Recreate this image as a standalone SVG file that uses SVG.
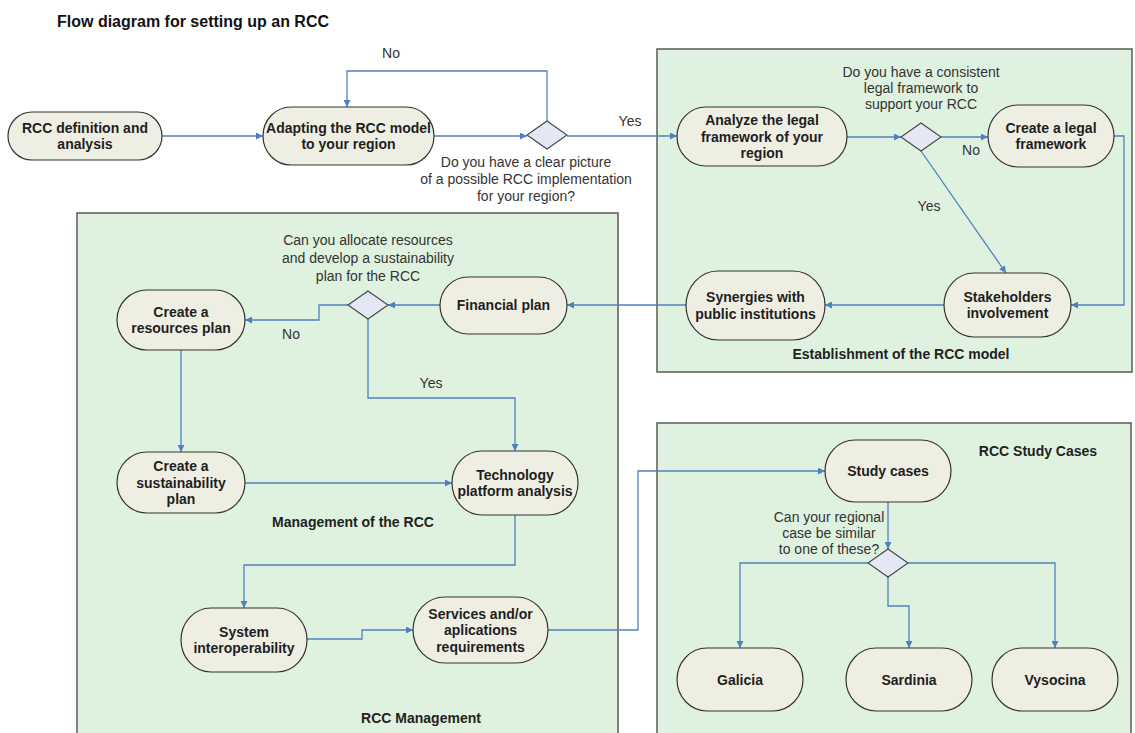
<svg xmlns="http://www.w3.org/2000/svg" width="1135" height="733" viewBox="0 0 1135 733">
<defs>
<style>
.box{fill:#dff2df;stroke:#5a5a5a;stroke-width:1.5}
.node rect{fill:#efeee3;stroke:#333;stroke-width:1.2}
.dia{fill:#e4e8f4;stroke:#444;stroke-width:1.1}
.nt{font-family:"Liberation Sans",Arial,sans-serif;font-size:14px;font-weight:bold;fill:#1e1e1e;text-anchor:middle}
.q{font-family:"Liberation Sans",Arial,sans-serif;font-size:14px;fill:#333;text-anchor:middle}
.lb{font-family:"Liberation Sans",Arial,sans-serif;font-size:14px;font-weight:bold;fill:#222;text-anchor:middle}
.c{fill:none;stroke:#4f81bd;stroke-width:1.3}
</style>
<marker id="ah" viewBox="0 0 10 10" refX="10" refY="5" markerWidth="7" markerHeight="7" markerUnits="userSpaceOnUse" orient="auto">
<path d="M0,0 L10,5 L0,10 z" fill="#4f81bd"/>
</marker>
</defs>
<rect width="1135" height="733" fill="#fff"/>
<text x="57" y="27" font-family="Liberation Sans, Arial, sans-serif" font-size="16" font-weight="bold" fill="#111">Flow diagram for setting up an RCC</text>

<g id="containers">
<rect class="box" x="657" y="49" width="475" height="323"/>
<rect class="box" x="77" y="213" width="541" height="530"/>
<rect class="box" x="657" y="423" width="474" height="320"/>
<text class="lb" x="901" y="359">Establishment of the RCC model</text>
<text class="lb" x="353" y="527">Management of the RCC</text>
<text class="lb" x="421" y="723">RCC Management</text>
<text class="lb" x="1038" y="456">RCC Study Cases</text>
</g>

<g id="connectors">
<path class="c" marker-end="url(#ah)" d="M162,136 H263"/>
<path class="c" marker-end="url(#ah)" d="M434,136 H527"/>
<path class="c" marker-end="url(#ah)" d="M547,121 V71 H347 V107"/>
<path class="c" marker-end="url(#ah)" d="M567,136 H677"/>
<path class="c" marker-end="url(#ah)" d="M847,137 H901"/>
<path class="c" marker-end="url(#ah)" d="M941,137 H988"/>
<path class="c" marker-end="url(#ah)" d="M921,151 L1006,273"/>
<path class="c" marker-end="url(#ah)" d="M1114,136 H1124 V305 H1071"/>
<path class="c" marker-end="url(#ah)" d="M944,305 H825"/>
<path class="c" marker-end="url(#ah)" d="M686,305 H567"/>
<path class="c" marker-end="url(#ah)" d="M440,305 H388"/>
<path class="c" marker-end="url(#ah)" d="M348,305 H319 V320 H245"/>
<path class="c" marker-end="url(#ah)" d="M368,319 V398 H515 V451"/>
<path class="c" marker-end="url(#ah)" d="M181,350 V452"/>
<path class="c" marker-end="url(#ah)" d="M245,483 H452"/>
<path class="c" marker-end="url(#ah)" d="M515,515 V565 H244 V608"/>
<path class="c" marker-end="url(#ah)" d="M307,639 H362 V630 H413"/>
<path class="c" marker-end="url(#ah)" d="M548,630 H638 V471 H825"/>
<path class="c" marker-end="url(#ah)" d="M888,502 V549"/>
<path class="c" marker-end="url(#ah)" d="M868,563 H740 V648"/>
<path class="c" marker-end="url(#ah)" d="M888,577 V606 H909 V648"/>
<path class="c" marker-end="url(#ah)" d="M908,563 H1055 V648"/>
<text class="q" x="391" y="58">No</text>
<text class="q" x="630" y="126">Yes</text>
<text class="q" x="971" y="155">No</text>
<text class="q" x="929" y="211">Yes</text>
<text class="q" x="291" y="339">No</text>
<text class="q" x="431" y="388">Yes</text>
</g>

<g id="n1" class="node"><rect x="8" y="112" width="154" height="48" rx="24" ry="24"/>
<text class="nt" x="85" y="132.5">RCC definition and</text><text class="nt" x="85" y="149">analysis</text></g>
<g id="n2" class="node"><rect x="263" y="107" width="171" height="58" rx="28" ry="29"/>
<text class="nt" x="348.5" y="132.5">Adapting the RCC model</text><text class="nt" x="348.5" y="149">to your region</text></g>
<g id="d1"><polygon class="dia" points="547,121 567,135 547,149 527,135"/>
<text class="q" x="526" y="167">Do you have a clear picture</text><text class="q" x="526" y="184">of a possible RCC implementation</text><text class="q" x="526" y="201">for your region?</text></g>
<g id="n3" class="node"><rect x="677" y="107" width="170" height="59" rx="29" ry="29.5"/>
<text class="nt" x="762" y="125">Analyze the legal</text><text class="nt" x="762" y="141.5">framework of your</text><text class="nt" x="762" y="158">region</text></g>
<g id="d2"><polygon class="dia" points="921,123 941,137 921,151 901,137"/>
<text class="q" x="921" y="77">Do you have a consistent</text><text class="q" x="921" y="93">legal framework to</text><text class="q" x="921" y="109">support your RCC</text></g>
<g id="n4" class="node"><rect x="988" y="105" width="126" height="62" rx="30" ry="31"/>
<text class="nt" x="1051" y="132.5">Create a legal</text><text class="nt" x="1051" y="149">framework</text></g>
<g id="n5" class="node"><rect x="944" y="273" width="127" height="64" rx="30" ry="32"/>
<text class="nt" x="1007.5" y="301.5">Stakeholders</text><text class="nt" x="1007.5" y="318">involvement</text></g>
<g id="n6" class="node"><rect x="686" y="271" width="139" height="69" rx="32" ry="34.5"/>
<text class="nt" x="755.5" y="302">Synergies with</text><text class="nt" x="755.5" y="318.5">public institutions</text></g>
<g id="n7" class="node"><rect x="440" y="277" width="127" height="57" rx="28" ry="28.5"/>
<text class="nt" x="503.5" y="310">Financial plan</text></g>
<g id="d3"><polygon class="dia" points="368,291 388,305 368,319 348,305"/>
<text class="q" x="368" y="245">Can you allocate resources</text><text class="q" x="368" y="263">and develop a sustainability</text><text class="q" x="368" y="281">plan for the RCC</text></g>
<g id="n8" class="node"><rect x="117" y="290" width="128" height="60" rx="30" ry="30"/>
<text class="nt" x="181" y="316.5">Create a</text><text class="nt" x="181" y="333">resources plan</text></g>
<g id="n9" class="node"><rect x="117" y="452" width="128" height="61" rx="30" ry="30.5"/>
<text class="nt" x="181" y="471">Create a</text><text class="nt" x="181" y="487.5">sustainability</text><text class="nt" x="181" y="504">plan</text></g>
<g id="n10" class="node"><rect x="452" y="451" width="126" height="64" rx="30" ry="32"/>
<text class="nt" x="515" y="479.5">Technology</text><text class="nt" x="515" y="496">platform analysis</text></g>
<g id="n11" class="node"><rect x="181" y="608" width="126" height="64" rx="30" ry="32"/>
<text class="nt" x="244" y="636.5">System</text><text class="nt" x="244" y="653">interoperability</text></g>
<g id="n12" class="node"><rect x="413" y="597" width="135" height="66" rx="32" ry="33"/>
<text class="nt" x="480.5" y="618.5">Services and/or</text><text class="nt" x="480.5" y="635">aplications</text><text class="nt" x="480.5" y="651.5">requirements</text></g>
<g id="n13" class="node"><rect x="825" y="440" width="126" height="62" rx="30" ry="31"/>
<text class="nt" x="888" y="476">Study cases</text></g>
<g id="d4"><polygon class="dia" points="888,549 908,563 888,577 868,563"/>
<text class="q" x="829" y="522">Can your regional</text><text class="q" x="829" y="538">case be similar</text><text class="q" x="829" y="554">to one of these?</text></g>
<g id="n14" class="node"><rect x="677" y="648" width="126" height="63" rx="30" ry="31.5"/>
<text class="nt" x="740" y="684.5">Galicia</text></g>
<g id="n15" class="node"><rect x="846" y="648" width="126" height="63" rx="30" ry="31.5"/>
<text class="nt" x="909" y="684.5">Sardinia</text></g>
<g id="n16" class="node"><rect x="992" y="648" width="126" height="63" rx="30" ry="31.5"/>
<text class="nt" x="1055" y="684.5">Vysocina</text></g>
</svg>
